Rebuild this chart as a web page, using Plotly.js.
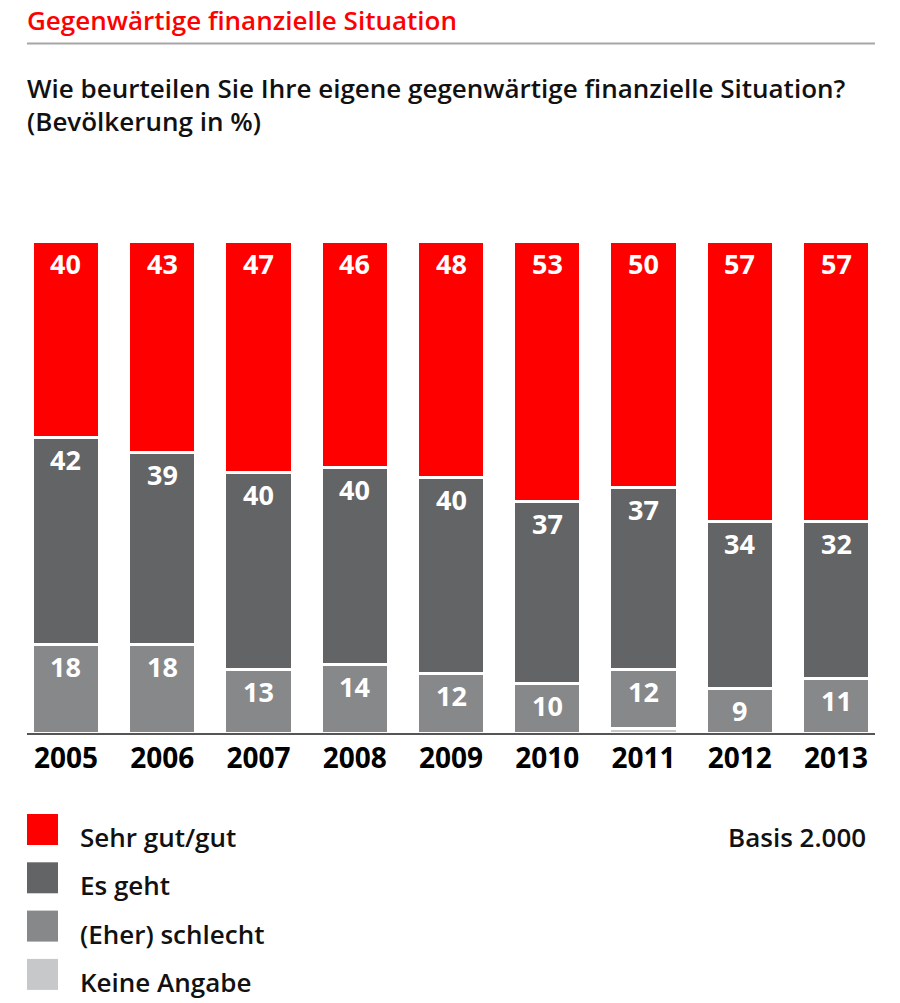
<!DOCTYPE html>
<html>
<head>
<meta charset="utf-8">
<script src="https://cdn.plot.ly/plotly-3.0.1.min.js"></script>
<style>
  html, body { margin: 0; padding: 0; background: #fff; }
  #chart { width: 900px; height: 1003px; }
</style>
</head>
<body>
<div id="chart"></div>
<script>
// ---- data ----
const years = ["2005", "2006", "2007", "2008", "2009", "2010", "2011", "2012", "2013"];
const keineAngabe = [0, 0, 0, 0, 0, 0, 1, 0, 0];
const eherSchlecht = [18, 18, 13, 14, 12, 10, 12, 9, 11];
const esGeht = [42, 39, 40, 40, 40, 37, 37, 34, 32];
const sehrGutGut = [40, 43, 47, 46, 48, 53, 50, 57, 57];

const seriesNames = ["Keine Angabe", "(Eher) schlecht", "Es geht", "Sehr gut/gut"];
const seriesValues = [keineAngabe, eherSchlecht, esGeht, sehrGutGut];
const seriesColors = ["#c7c8ca", "#87888a", "#636466", "#ff0000"];
const labelled = [false, true, true, true];

const chartTitle = "Gegenwärtige finanzielle Situation";
const question = "Wie beurteilen Sie Ihre eigene gegenwärtige finanzielle Situation?";
const unitNote = "(Bevölkerung in %)";
const basisNote = "Basis 2.000";

// ---- layout geometry (pixels -> paper) ----
const W = 900, H = 1003;
const M = { l: 27, r: 25, t: 241, b: 270 };
const PW = W - M.l - M.r, PH = H - M.t - M.b;
const px = x => (x - M.l) / PW;
const py = y => (H - M.b - y) / PH;

const FONT = "Open Sans, Noto Sans, DejaVu Sans, sans-serif";

const traces = seriesValues.map((vals, i) => ({
  type: "bar",
  name: seriesNames[i],
  x: years,
  y: vals,
  width: 0.6965,
  marker: { color: seriesColors[i], line: { color: "#ffffff", width: 3 } },
  hoverinfo: "skip",
  showlegend: false
}));

const annotations = [];
// value labels near top of each segment
const cum = years.map(() => 0);
seriesValues.forEach((vals, i) => {
  vals.forEach((v, j) => {
    cum[j] += v;
    if (labelled[i] && v > 0) {
      annotations.push({
        x: j, y: cum[j], xref: "x", yref: "y",
        text: "<b>" + v + "</b>", showarrow: false,
        xanchor: "center", yanchor: "middle", yshift: -22,
        font: { family: FONT, size: 27, color: "#ffffff" }
      });
    }
  });
});

// titles
annotations.push({
  xref: "paper", yref: "paper", x: px(25), y: py(0), xanchor: "left", yanchor: "top",
  text: chartTitle, showarrow: false,
  font: { family: FONT, size: 26, color: "#ff0000", weight: 600 }
});
annotations.push({
  xref: "paper", yref: "paper", x: px(25), y: py(88), xanchor: "left", yanchor: "middle",
  text: question, showarrow: false,
  font: { family: FONT, size: 26, color: "#111111", weight: 600 }
});
annotations.push({
  xref: "paper", yref: "paper", x: px(25), y: py(121), xanchor: "left", yanchor: "middle",
  text: unitNote, showarrow: false,
  font: { family: FONT, size: 26, color: "#111111", weight: 600 }
});

// legend (custom, top to bottom)
const shapes = [
  { type: "line", xref: "paper", yref: "paper", x0: px(27), x1: px(875), y0: py(43.5), y1: py(43.5),
    line: { color: "#a6a6a6", width: 2 } }
];
const legendOrder = [3, 2, 1, 0];
legendOrder.forEach((si, k) => {
  const top = 814 + k * 48.3;
  shapes.push({
    type: "rect", xref: "paper", yref: "paper",
    x0: px(27), x1: px(58), y0: py(top), y1: py(top + 31),
    fillcolor: seriesColors[si], line: { width: 0 }
  });
  annotations.push({
    xref: "paper", yref: "paper", x: px(78), y: py(top + 23), xanchor: "left", yanchor: "middle",
    text: seriesNames[si], showarrow: false,
    font: { family: FONT, size: 26, color: "#111111", weight: 600 }
  });
});
annotations.push({
  xref: "paper", yref: "paper", x: px(868), y: py(837), xanchor: "right", yanchor: "middle",
  text: basisNote, showarrow: false,
  font: { family: FONT, size: 26, color: "#111111", weight: 600 }
});

const layout = {
  width: W, height: H,
  margin: M,
  barmode: "stack",
  paper_bgcolor: "#ffffff",
  plot_bgcolor: "#ffffff",
  showlegend: false,
  xaxis: {
    type: "category",
    range: [-0.405, 8.405],
    showline: true, linecolor: "#555555", linewidth: 1.5,
    showgrid: false, zeroline: false, ticks: "",
    tickfont: { family: FONT, size: 28, color: "#000000", weight: 700 },
    fixedrange: true
  },
  yaxis: {
    range: [0, 100], visible: false, showgrid: false, zeroline: false, fixedrange: true
  },
  annotations: annotations,
  shapes: shapes
};

Plotly.newPlot("chart", traces, layout, { displayModeBar: false, staticPlot: true });
</script>
</body>
</html>
